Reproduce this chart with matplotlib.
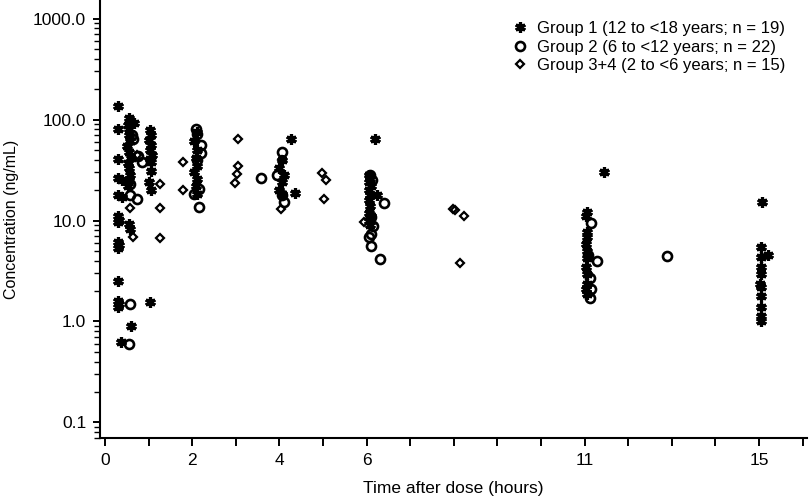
#!/usr/bin/env python3
"""
Plasma concentration vs time after dose, by age group (log scale).
Output: out.png
"""

import matplotlib
matplotlib.use("Agg")
import matplotlib.pyplot as plt
from matplotlib.ticker import FixedLocator, FuncFormatter, LogLocator, NullFormatter

plt.rcParams["font.family"] = ["Liberation Sans", "DejaVu Sans"]

# ---- data ----
G1_LABEL = "Group 1 (12 to <18 years; n = 19)"
G1_TIME = [0.30, 0.30, 0.30, 0.30, 0.38, 0.30, 0.40, 0.30, 0.33, 0.30, 0.30, 0.31, 0.29,
           0.30, 0.30, 0.32, 0.30, 0.37,
           0.55, 0.58, 0.52, 0.55, 0.66, 0.55, 0.57, 0.50, 0.55, 0.60, 0.52, 0.55, 0.58,
           0.55, 0.53, 0.55, 0.57, 0.60,
           1.03, 1.05, 1.00, 1.05, 1.03, 1.07, 1.03, 1.05, 1.05, 1.00, 1.05, 1.03,
           2.10, 2.05, 2.10, 2.08, 2.12, 2.05, 2.10, 2.08, 2.10,
           4.05, 4.00, 4.10, 4.05, 4.00, 4.05, 4.27, 4.36,
           6.19, 6.05, 6.08, 6.05, 6.10, 6.05, 6.08, 6.23, 6.05, 6.08, 6.05, 6.10, 6.05, 6.08,
           11.45, 11.05, 11.03, 11.05, 11.05, 11.03, 11.05, 11.05, 11.03, 11.05, 11.05,
           11.03, 11.05,
           15.06, 15.05, 15.20, 15.05, 15.05, 15.05, 15.03, 15.05, 15.05, 15.05, 15.05, 15.05]
G1_CONC = [135, 81, 41, 26.5, 25, 17.7, 17, 11.2, 10.2, 9.6, 6.1, 5.7, 5.4,
           2.54, 1.6, 1.5, 1.4, 0.62,
           103, 95, 88, 80, 92, 70, 62, 55, 48, 42, 37, 33, 28,
           25, 22, 9.3, 8.3, 0.9,
           78, 70, 63, 56, 50, 45, 41, 38, 31, 24, 20, 1.55,
           75, 62, 50, 42, 35, 30, 26, 22, 18.5,
           40, 33, 28, 24, 20, 18.5, 64.7, 18.7,
           64.7, 28, 26, 24, 22, 20, 18, 17.7, 16, 14, 12, 11, 10, 9,
           30.2, 12.1, 11.2, 7.65, 6.8, 5.9, 5.0, 4.3, 3.44, 2.96, 2.35,
           2.1, 1.87,
           15.2, 5.43, 4.56, 4.32, 3.44, 2.96, 2.35, 2.18, 1.77, 1.38, 1.14, 1.02]

G2_LABEL = "Group 2 (6 to <12 years; n = 22)"
G2_TIME = [0.62, 0.65, 0.76, 0.84, 0.57, 0.57, 0.74, 0.57, 0.55,
           2.08, 2.10, 2.20, 2.20, 2.12, 2.15, 2.05, 2.15,
           3.57, 4.05, 3.94, 4.05, 4.10,
           6.08, 6.12, 6.10, 6.15, 6.10, 6.05, 6.10, 6.40, 6.31,
           11.15, 11.28, 11.08, 11.12, 11.15, 11.12, 12.90]
G2_CONC = [70, 64.7, 44, 38, 23.1, 17.7, 16.4, 1.5, 0.6,
           80, 72, 55.6, 46.6, 40, 20.6, 18.4, 13.6,
           26.1, 47.5, 28, 17.7, 15.2,
           28, 25, 10.8, 8.9, 7.4, 6.8, 5.55, 14.9, 4.2,
           9.4, 4.0, 4.6, 2.7, 2.1, 1.69, 4.49]

G3_LABEL = "Group 3+4 (2 to <6 years; n = 15)"
G3_TIME = [0.57, 0.63, 0.74, 1.26, 1.25, 1.26, 1.78, 1.78,
           3.06, 3.06, 3.02, 2.98, 4.05, 4.03, 4.97, 5.07, 5.03, 5.95,
           7.97, 8.03, 8.24, 8.15]
G3_CONC = [13.4, 6.8, 45, 23.2, 13.4, 6.7, 38, 20.2,
           64.7, 35, 29, 23.5, 39.5, 13.1, 29.5, 25, 16.4, 9.6,
           13.1, 12.6, 11.0, 3.77]

X_TICKS = list(range(0, 17))
X_TICK_LABELS = ["0", "", "2", "", "4", "", "6", "", "", "", "", "11", "", "", "", "15", ""]
Y_TICKS = [0.1, 1.0, 10.0, 100.0, 1000.0]

FS = 12.5


def main():
    fig = plt.figure(figsize=(8.10, 4.99), dpi=100)
    ax = fig.add_axes([0.1235, 0.1222, 0.8728, 0.8778])

    asterisk = (6, 2, 0)
    ax.plot(G1_TIME, G1_CONC, linestyle="none", marker=asterisk, ms=7.5, mew=2.3,
            color="black", label=G1_LABEL)
    ax.plot(G2_TIME, G2_CONC, linestyle="none", marker="o", ms=6.5, mew=1.9,
            mfc="none", mec="black", label=G2_LABEL)
    ax.plot(G3_TIME, G3_CONC, linestyle="none", marker="D", ms=4.2, mew=1.6,
            mfc="none", mec="black", label=G3_LABEL)

    ax.set_yscale("log")
    ax.set_ylim(0.070, 1530)
    ax.set_xlim(-0.115, 16.1)

    ax.xaxis.set_major_locator(FixedLocator(X_TICKS))
    ax.set_xticklabels(X_TICK_LABELS)
    ax.yaxis.set_major_locator(FixedLocator(Y_TICKS))
    ax.yaxis.set_major_formatter(FuncFormatter(lambda v, p: f"{v:.1f}"))
    ax.yaxis.set_minor_locator(LogLocator(base=10, subs=range(2, 10)))
    ax.yaxis.set_minor_formatter(NullFormatter())

    for side in ("top", "right"):
        ax.spines[side].set_visible(False)
    for side in ("left", "bottom"):
        ax.spines[side].set_linewidth(1.5)

    ax.tick_params(axis="x", which="major", direction="out", length=6, width=1.4,
                   labelsize=FS, pad=5)
    ax.tick_params(axis="y", which="major", direction="out", length=5, width=1.4,
                   labelsize=FS, pad=5)
    ax.tick_params(axis="y", which="minor", direction="out", length=4, width=1.0)

    ax.set_xlabel("Time after dose (hours)", fontsize=FS, labelpad=9)
    ax.set_ylabel("Concentration (ng/mL)", fontsize=11.5, labelpad=10)

    ax.legend(loc="upper right", bbox_to_anchor=(785 / 810, 1 - 21 / 499),
              bbox_transform=fig.transFigure, frameon=False, fontsize=12,
              handlelength=1.0, handletextpad=0.5, labelspacing=0.22,
              borderpad=0, borderaxespad=0, markerscale=1.0)

    fig.savefig("out.png", dpi=100)
    plt.close(fig)
    print("[Saved] out.png")


if __name__ == "__main__":
    main()
